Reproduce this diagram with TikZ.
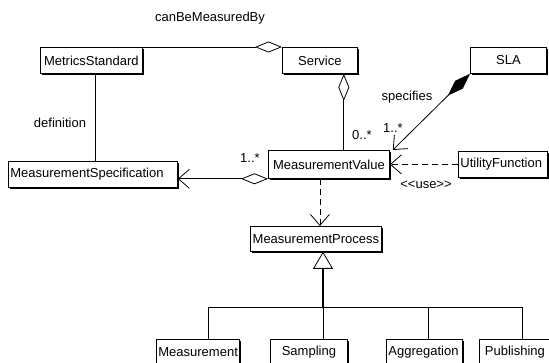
\documentclass[tikz,border=0pt]{standalone}
\usepackage{fontspec}
\setmainfont{Liberation Sans}
\usepackage{tikz}
\usetikzlibrary{arrows.meta,shadows}
\tikzset{
  cls/.style={draw,fill=white,anchor=north west,minimum height=26pt,inner xsep=2pt,inner ysep=0pt,
    font=\fontsize{13}{15}\selectfont,align=center,
    drop shadow={shadow xshift=1.6pt,shadow yshift=-1.6pt,fill=black,opacity=1}},
  lbl/.style={inner sep=0pt,font=\fontsize{13}{15}\selectfont},
  dsh/.style={dash pattern=on 6pt off 4pt},
  agg/.style={{Diamond[open,length=27pt,width=11pt]}-},
  barb/.style={-{Straight Barb[length=11pt,width=19pt]}},
  every picture/.style={line width=0.8pt},
}
\begin{document}
\begin{tikzpicture}[x=1pt,y=-1pt]
\useasboundingbox (0,0) rectangle (549,363);
% classes
\node[cls,text width=98pt] (ms) at (40,47){MetricsStandard}; \node[cls,text width=71pt] (srv) at (282,47){Service}; \node[cls,text width=72pt] (sla) at (470,47){SLA};
\node[cls,text width=165pt,align=left] (mspec) at (8,161){MeasurementSpecification}; \node[cls,text width=117pt,minimum height=28pt] (mval) at (268,150){MeasurementValue};
\node[cls,text width=85pt,align=left] (util) at (458,151){UtilityFunction}; \node[cls,text width=127pt,minimum height=25pt] (mproc) at (250,226){MeasurementProcess};
\node[cls,text width=79pt,align=left] (meas) at (156,339){Measurement}; \node[cls,text width=73pt] (samp) at (270,339){Sampling};
\node[cls,text width=72pt,align=left] (aggr) at (386,339){Aggregation}; \node[cls,text width=67pt] (publ) at (479,339){Publishing};
% labels
\node[lbl] (lcan) at (210,18){canBeMeasuredBy}; \node[lbl] (ldef) at (60,123){definition}; \node[lbl] (lspec) at (407,97){specifies};
\node[lbl] (lm1) at (250,158){1..*}; \node[lbl] (lm2) at (362,135){0..*}; \node[lbl] (lm3) at (393,128){1..*}; \node[lbl] (luse) at (426,185){<{}<use>{}>};
% associations
\draw[agg] (srv.north west) -- (ms.north east);
\draw[agg] ([xshift=-14pt]srv.south east) -- ([xshift=-14pt]srv.south east |- mval.north);
\draw[{Diamond[fill=black,length=31pt,width=11pt]}-{Straight Barb[length=11pt,width=19pt]}] (sla.south west) -- ([xshift=3pt]mval.north east);
\draw ([xshift=4pt]ms.south) -- ([xshift=4pt]ms.south |- mspec.north);
\draw[{Diamond[open,length=27pt,width=11pt]}-{Straight Barb[length=11pt,width=19pt]}] (mval.south west) -- (mval.south west -| mspec.east);
\draw[dsh,barb] (util.west) -- (util.west -| mval.east);
\draw[dsh,barb] ([xshift=4pt]mproc.north |- mval.south) -- ([xshift=4pt]mproc.north);
% generalization
\coordinate (bus) at (323,307);
\draw[line width=1.6pt,-{Triangle[open,length=17pt,width=20pt,line width=0.8pt]}] (bus) -- (bus |- mproc.south);
\foreach \n/\s in {meas/10,samp/14,aggr/4,publ/7} \draw ([xshift=\s pt]\n.north) |- (bus);
\end{tikzpicture}
\end{document}
